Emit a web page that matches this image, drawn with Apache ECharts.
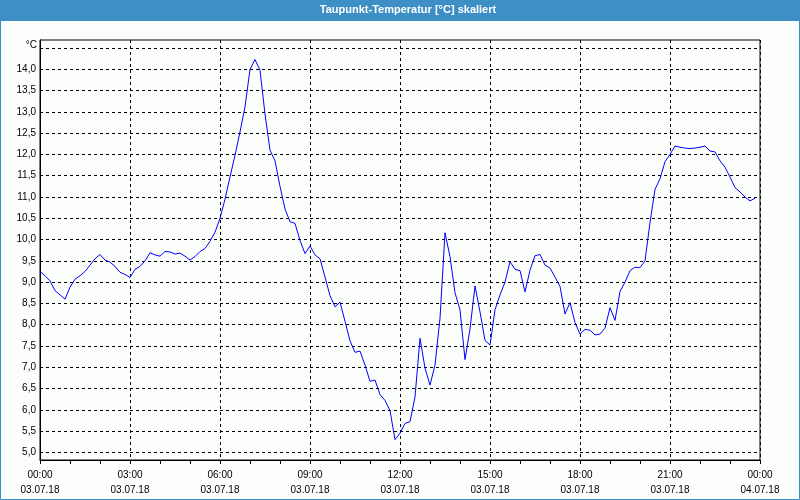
<!DOCTYPE html>
<html>
<head>
<meta charset="utf-8">
<script src="https://cdn.jsdelivr.net/npm/echarts@6/dist/echarts.min.js"></script>
<style>
html,body{margin:0;padding:0;background:#fcfefc;}
#chart{width:800px;height:500px;}
</style>
</head>
<body>
<div id="chart"></div>
<script>
// Chart title
var chartTitle = 'Taupunkt-Temperatur [°C] skaliert';
var unitLabel = '°C';
// Sampling step of the readings in minutes (00:00 .. 23:50)
var stepMinutes = 10;
// Dew point values [°C], one every 10 minutes from 00:00
var dewPoint = [
  9.25, 9.15, 9.03, 8.80, 8.70, 8.60, 8.88, 9.07, 9.15, 9.25,
  9.40, 9.55, 9.65, 9.52, 9.47, 9.37, 9.23, 9.18, 9.11, 9.30,
  9.37, 9.50, 9.69, 9.64, 9.61, 9.72, 9.71, 9.66, 9.68, 9.61,
  9.52, 9.60, 9.72, 9.79, 9.96, 10.17, 10.50, 10.95, 11.47, 11.98,
  12.53, 13.12, 14.00, 14.23, 13.98, 12.95, 12.10, 11.85, 11.25, 10.72,
  10.42, 10.38, 9.98, 9.67, 9.85, 9.64, 9.55, 9.12, 8.68, 8.42,
  8.53, 8.08, 7.62, 7.35, 7.38, 7.05, 6.67, 6.70, 6.36, 6.22,
  5.98, 5.30, 5.45, 5.68, 5.72, 6.30, 7.68, 6.98, 6.58, 7.05,
  8.15, 10.16, 9.60, 8.75, 8.35, 7.18, 7.90, 8.91, 8.30, 7.63,
  7.52, 8.35, 8.70, 9.00, 9.48, 9.30, 9.27, 8.77, 9.28, 9.62,
  9.65, 9.40, 9.33, 9.12, 8.90, 8.25, 8.52, 8.05, 7.78, 7.89,
  7.87, 7.76, 7.78, 7.92, 8.40, 8.10, 8.78, 9.00, 9.27, 9.35,
  9.34, 9.50, 10.40, 11.18, 11.43, 11.83, 12.00, 12.20, 12.17, 12.15,
  12.14, 12.15, 12.17, 12.20, 12.08, 12.06, 11.85, 11.70, 11.47, 11.22,
  11.12, 11.00, 10.91, 10.97
];
// X tick labels (every 3 hours)
var xTickMinutes = [0, 180, 360, 540, 720, 900, 1080, 1260, 1440];
var xTickTimes = ['00:00','03:00','06:00','09:00','12:00','15:00','18:00','21:00','00:00'];
var xTickDates = ['03.07.18','03.07.18','03.07.18','03.07.18','03.07.18','03.07.18','03.07.18','03.07.18','04.07.18'];
// Y tick values (gridlines) and labelled values
var yGridValues = [5, 5.5, 6, 6.5, 7, 7.5, 8, 8.5, 9, 9.5, 10, 10.5, 11, 11.5, 12, 12.5, 13, 13.5, 14, 14.5];
var yLabelValues = [5, 5.5, 6, 6.5, 7, 7.5, 8, 8.5, 9, 9.5, 10, 10.5, 11, 11.5, 12, 12.5, 13, 13.5, 14];
var yMin = 4.82, yMax = 14.69;

var seriesData = dewPoint.map(function (v, i) { return [i * stepMinutes, v]; });

var chart = echarts.init(document.getElementById('chart'), null, {renderer: 'canvas'});
var font = 'Liberation Sans';
chart.setOption({
  backgroundColor: '#fcfefc',
  animation: false,
  graphic: [
    {type: 'rect', shape: {x: 0, y: 0, width: 800, height: 21}, style: {fill: '#3d8fc6'}, z: 0},
    {type: 'rect', shape: {x: 0.5, y: 0.5, width: 799, height: 499}, style: {fill: 'none', stroke: '#3d8fc6', lineWidth: 1}, z: 0},
    {type: 'text', x: 408, y: 10, style: {text: chartTitle, fill: '#ffffff', font: 'bold 11px "Liberation Sans"', textAlign: 'center', textVerticalAlign: 'middle'}, z: 10}
  ],
  grid: {left: 40, right: 40, top: 40, bottom: 40, show: true, borderColor: '#000', borderWidth: 1, backgroundColor: '#fcfefc'},
  xAxis: {
    type: 'value', min: 0, max: 1440, interval: 180,
    axisLine: {show: true, lineStyle: {color: '#000', width: 1}},
    axisTick: {show: true, length: 4, lineStyle: {color: '#000'}},
    minorTick: {show: true, splitNumber: 3, length: 4, lineStyle: {color: '#000'}},
    splitLine: {show: true, lineStyle: {color: '#000', type: [3, 3], width: 1}},
    axisLabel: {
      margin: 8, color: '#000', fontFamily: font, fontSize: 10, lineHeight: 15,
      formatter: function (v) {
        var i = xTickMinutes.indexOf(v);
        return i < 0 ? '' : xTickTimes[i] + '\n' + xTickDates[i];
      },
      showMinLabel: true, showMaxLabel: true
    }
  },
  yAxis: {
    type: 'value', min: yMin, max: yMax,
    name: unitLabel, nameLocation: 'end', nameGap: -5,
    nameTextStyle: {color: '#000', fontFamily: font, fontSize: 10, align: 'right', verticalAlign: 'middle', padding: [0, 3, 0, 0]},
    axisLine: {show: true, lineStyle: {color: '#000', width: 1}},
    axisTick: {show: false, customValues: yGridValues},
    splitLine: {show: true, lineStyle: {color: '#000', type: [3, 3], width: 1}},
    axisLabel: {
      customValues: yLabelValues, margin: 4, color: '#000', fontFamily: font, fontSize: 10,
      formatter: function (v) { return v.toFixed(1).replace('.', ','); }
    }
  },
  series: [{
    type: 'line', data: seriesData, showSymbol: false, smooth: false,
    lineStyle: {color: '#0000ff', width: 1}, z: 5
  }]
});
</script>
</body>
</html>
